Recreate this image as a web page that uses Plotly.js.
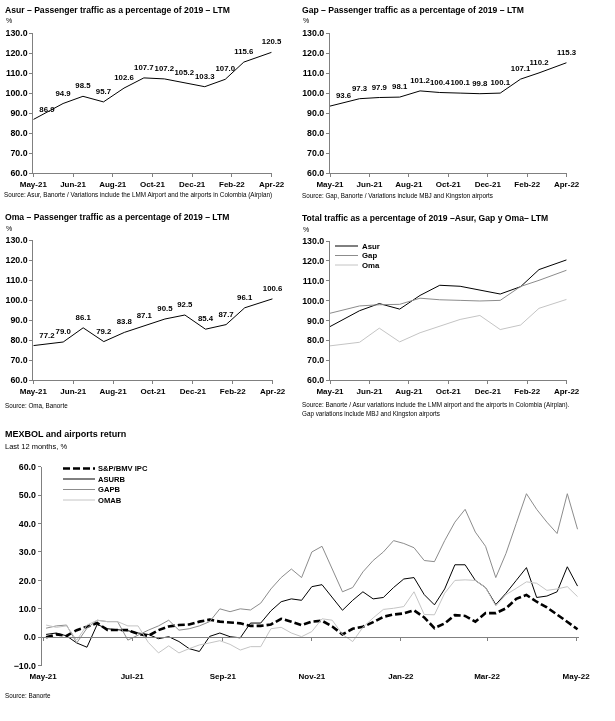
<!DOCTYPE html>
<html><head><meta charset="utf-8">
<script src="https://cdn.plot.ly/plotly-3.0.1.min.js"></script>
<style>html,body{margin:0;padding:0;background:#fff;}#chart{width:615px;height:721px;filter:grayscale(1);}</style>
</head><body><div id="chart"></div>
<script>
// ---------- data: monthly passenger traffic (% of 2019, LTM) ----------
const trafficDates = ['2021-05-01','2021-06-15','2021-07-15','2021-08-15','2021-09-15','2021-10-15',
                      '2021-11-15','2021-12-15','2022-01-15','2022-02-15','2022-03-15','2022-04-26'];
const asurTraffic = [86.9, 94.9, 98.5, 95.7, 102.6, 107.7, 107.2, 105.2, 103.3, 107.0, 115.6, 120.5];
const gapTraffic  = [93.6, 97.3, 97.9, 98.1, 101.2, 100.4, 100.1, 99.8, 100.1, 107.1, 110.2, 115.3];
const omaTraffic  = [77.2, 79.0, 86.1, 79.2, 83.8, 87.1, 90.5, 92.5, 85.4, 87.7, 96.1, 100.6];
const trafficNames = ['Asur', 'Gap', 'Oma'];

// ---------- data: weekly 12-month returns (%) ----------
const returnStart = '2021-05-03';   // first weekly observation
const returnNames = ['S&P/BMV IPC', 'ASURB', 'GAPB', 'OMAB'];
const spxReturn = [0, 1, 0.5, 2.5, 3.7, 5, 2.6, 2.6, 2.5, 1.2, 0.5, 2.5,
  3.8, 4.3, 4.5, 5.5, 6.2, 5.5, 5.2, 4.9, 4, 4, 4.5, 6.5, 5.5, 4.3,
  5.5, 5.8, 3.8, 1, 3, 3.7, 5.3, 7.2, 8, 8.4, 9.5, 7, 3.2, 4.9, 7.8,
  7.5, 5.5, 8.5, 8.5, 10.2, 13.5, 14.9, 12.5, 10.5, 8, 5.5, 2.8];
const asurbReturn = [1, 1.5, 0.5, -2, -3.5, 4.5, 3, 2.6, 2.3, 1.5, 1, -0.5,
  0.2, -1.5, -4, -5, 0.3, 1.5, 0.2, -0.2, 5, 5, 9.3, 12.5, 13.5, 13,
  17.8, 18.5, 14, 9.5, 13, 16, 13.5, 14, 17.5, 20.5, 21, 15, 11.4, 17, 25.5,
  25.5, 20, 17.5, 11.5, 15.5, 20, 24.5, 14, 14.5, 16, 24.8, 18];
const gapbReturn = [3.2, 4, 4.3, -2, 3.2, 6, 5.5, 5.5, -1, 0.8, 2.5, 4,
  6, 2.5, 3, 4, 5.5, 10, 9, 10, 9.6, 12, 17, 21, 24, 21,
  30, 32, 24, 16, 17.5, 23, 27, 30, 34, 33, 31.5, 27, 26.6, 34, 40.5,
  45, 37, 32, 21, 29.5, 40, 50.5, 45, 40.5, 36.5, 50.5, 38];
const omabReturn = [4.3, 3.5, 4, -1, 4.3, 6, 5.5, 5.5, 4, 4, -1.8, -5.5,
  -3, -5.5, -4, -2.7, -2, -1.2, -2.5, -4.5, -3.3, -3.3, 3, 3.5, 1.5, 0.2,
  2, 6.5, 6, 1, -1.5, 3.5, 6.8, 9.8, 10.2, 10.8, 16, 8, 7.9, 15.5, 20,
  20.2, 20, 17.5, 11, 15, 17.2, 19.5, 19, 16.5, 17, 17.8, 14.3];

// weekly observation dates
const returnDates = spxReturn.map((_, i) => {
  const d = new Date(returnStart + 'T00:00:00Z');
  d.setUTCDate(d.getUTCDate() + 7 * i);
  return d.toISOString().slice(0, 10);
});

// ---------- layout helpers ----------
const W = 615, H = 721;
const px = x => x / W;
const py = y => 1 - y / H;
const FONT = "'Liberation Sans', Arial, sans-serif";
const AX = '#808080';
const C_BLACK = '#000000', C_GAP = '#8c8c8c', C_OMA = '#c4c4c4';
const XTICK = {size: 8, color: '#000', weight: 'bold'};
const YTICK = {size: 8.8, color: '#000', weight: 'bold'};

function xTop(domain, anchor) {
  return {domain, anchor, type: 'date', range: ['2021-05-01', '2022-04-26 03:00'],
    tick0: '2021-05-01', dtick: 60 * 86400000, tickformat: '%b-%y',
    showline: true, linecolor: AX, linewidth: 1, ticks: 'outside', ticklen: 3, tickcolor: AX,
    showgrid: false, zeroline: false, tickfont: XTICK};
}
function yTop(domain, anchor) {
  return {domain, anchor, range: [60, 130], tick0: 60, dtick: 10, tickformat: '.1f',
    showline: true, linecolor: AX, linewidth: 1, ticks: 'outside', ticklen: 3, tickcolor: AX,
    showgrid: false, zeroline: false, tickfont: YTICK};
}

function labelled(x, y, xa, ya) {
  const pos = y.map((_, i) => i === 0 ? 'top right' : 'top center');
  return {type: 'scatter', mode: 'lines+markers+text', x, y, xaxis: xa, yaxis: ya,
    line: {color: C_BLACK, width: 1}, marker: {size: 8, color: 'rgba(0,0,0,0)'},
    texttemplate: '%{y:.1f}', textposition: pos,
    textfont: {size: 7.8, color: '#000000', weight: 'bold'}, cliponaxis: false, showlegend: false, hoverinfo: 'skip'};
}

const traces = [
  labelled(trafficDates, asurTraffic, 'x', 'y'),
  labelled(trafficDates, gapTraffic, 'x2', 'y2'),
  labelled(trafficDates, omaTraffic, 'x3', 'y3'),
];
const trafficStyles = [{color: C_BLACK, width: 1}, {color: C_GAP, width: 1}, {color: C_OMA, width: 1}];
[asurTraffic, gapTraffic, omaTraffic].forEach((vals, i) => {
  traces.push({type: 'scatter', mode: 'lines', x: trafficDates, y: vals, xaxis: 'x4', yaxis: 'y4',
    name: trafficNames[i], showlegend: false, line: trafficStyles[i], hoverinfo: 'skip'});
});
const retSeries = [spxReturn, asurbReturn, gapbReturn, omabReturn];
const retStyles = [
  {color: C_BLACK, width: 2.6, dash: '7px,3px'},
  {color: C_BLACK, width: 1},
  {color: C_GAP, width: 1},
  {color: C_OMA, width: 1},
];
retSeries.forEach((vals, i) => {
  traces.push({type: 'scatter', mode: 'lines', x: returnDates, y: vals, xaxis: 'x5', yaxis: 'y5',
    name: returnNames[i], showlegend: false, line: retStyles[i], hoverinfo: 'skip'});
});
// empty trace to carry the zero-level tick axis
traces.push({type: 'scatter', mode: 'lines', x: [], y: [], xaxis: 'x6', yaxis: 'y5', showlegend: false, hoverinfo: 'skip'});

const y5dom = [py(665.7), py(466.7)];
const y5range = [-10, 60];
const zeroPos = y5dom[0] + (y5dom[1] - y5dom[0]) * (0 - y5range[0]) / (y5range[1] - y5range[0]);
const retRange = ['2021-04-30', '2022-05-03'];

function note(text, x, y, size, bold) {
  return {text, x: px(x), y: py(y), xref: 'paper', yref: 'paper', xanchor: 'left', yanchor: 'middle',
    showarrow: false, font: {size, color: '#000', family: FONT, weight: bold ? 'bold' : 'normal'}};
}

// compact legends (key line + label), styled like the traces
const legendNotes = [], legendKeys = [];
function addLegend(names, styles, x0, x1, xText, yRows, size) {
  names.forEach((n, i) => {
    legendKeys.push({type: 'line', xref: 'paper', yref: 'paper', x0: px(x0), x1: px(x1),
      y0: py(yRows[i]), y1: py(yRows[i]), line: styles[i]});
    legendNotes.push(note(n, xText, yRows[i], size, true));
  });
}
addLegend(trafficNames, trafficStyles, 335, 358, 359.5, [246, 255.5, 265], 7.8);
addLegend(returnNames, retStyles, 63, 95, 95.5, [468.5, 479, 489.5, 500], 7.6);

const layout = {
  width: W, height: H, margin: {l: 0, r: 0, t: 0, b: 0},
  paper_bgcolor: '#fff', plot_bgcolor: 'rgba(0,0,0,0)',
  font: {family: FONT, color: '#000', size: 9},
  showlegend: false,
  xaxis: xTop([px(33.3), px(271.7)], 'y'),
  yaxis: yTop([py(173.3), py(33.3)], 'x'),
  xaxis2: xTop([px(330), px(566.7)], 'y2'),
  yaxis2: yTop([py(173.3), py(33.3)], 'x2'),
  xaxis3: xTop([px(33.3), px(272.7)], 'y3'),
  yaxis3: yTop([py(380), py(240)], 'x3'),
  xaxis4: xTop([px(330), px(566.7)], 'y4'),
  yaxis4: yTop([py(380), py(241)], 'x4'),
  xaxis5: {domain: [px(41.7), px(579)], anchor: 'y5', type: 'date', range: retRange,
    tick0: '2021-05-01', dtick: 'M2', tickformat: '%b-%y', showline: false,
    ticks: 'outside', ticklen: 3, tickcolor: 'rgba(0,0,0,0)', showgrid: false, zeroline: false,
    tickfont: XTICK},
  xaxis6: {overlaying: 'x5', anchor: 'free', position: zeroPos, type: 'date', range: retRange,
    tick0: '2021-05-01', dtick: 'M2', showline: true, linecolor: AX, linewidth: 1,
    ticks: 'outside', ticklen: 3, tickcolor: AX, showticklabels: false, showgrid: false, zeroline: false},
  yaxis5: {domain: y5dom, anchor: 'x5', range: y5range, tick0: -10, dtick: 10, tickformat: '.1f',
    showline: true, linecolor: AX, linewidth: 1, ticks: 'outside', ticklen: 3, tickcolor: AX,
    showgrid: false, zeroline: false, tickfont: YTICK},
  shapes: legendKeys,
  annotations: [
    note('Asur – Passenger traffic as a percentage of 2019 – LTM', 3, 10, 8.6, true),
    note('%', 4, 21, 7),
    note('Source: Asur, Banorte / Variations include the LMM Airport and the airports in Colombia (Airplan)', 2, 194.5, 6.3),
    note('Gap – Passenger traffic as a percentage of 2019 – LTM', 300, 10, 8.6, true),
    note('%', 301, 21, 7),
    note('Source: Gap, Banorte / Variations include MBJ and Kingston airports', 300, 196, 6.3),
    note('Oma – Passenger traffic as a percentage of 2019 – LTM', 3, 217, 8.6, true),
    note('%', 4, 228, 7),
    note('Source: Oma, Banorte', 3, 405, 6.3),
    note('Total traffic as a percentage of 2019 –Asur, Gap y Oma– LTM', 300, 218, 8.6, true),
    note('%', 301, 229, 7),
    note('Source: Banorte / Asur variations include the LMM airport and the airports in Colombia (Airplan).', 300, 405, 6.3),
    note('Gap variations include MBJ and Kingston airports', 300, 414, 6.3),
    note('MEXBOL and airports return', 3, 434, 9, true),
    note('Last 12 months, %', 3, 446.5, 7.5),
    note('Source: Banorte', 3, 695, 6.3),
  ].concat(legendNotes),
};

Plotly.newPlot('chart', traces, layout, {staticPlot: true, displayModeBar: false});
</script></body></html>
